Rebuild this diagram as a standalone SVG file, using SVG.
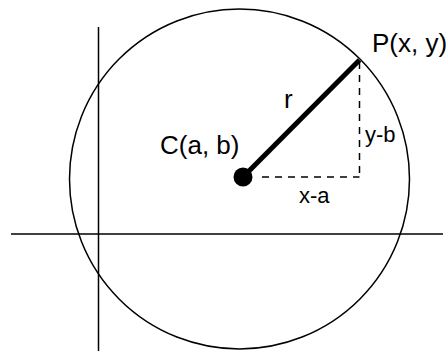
<svg xmlns="http://www.w3.org/2000/svg" width="448" height="351" viewBox="0 0 448 351">
<style>
.thin{fill:none;stroke:#000;stroke-width:1.5}
.dash{fill:none;stroke:#000;stroke-width:1.5;stroke-dasharray:7,6}
.lbl{font-family:"Liberation Sans",Arial,sans-serif;fill:#000}
</style>
<rect width="448" height="351" fill="#fff"/>
<g id="axes">
<line class="thin" x1="98.5" y1="27" x2="98.5" y2="351"/>
<line class="thin" x1="11" y1="234" x2="443" y2="234"/>
</g>
<g id="circle">
<circle class="thin" cx="239.5" cy="179" r="170"/>
</g>
<g id="connectors">
<line x1="243" y1="177" x2="359.5" y2="60" stroke="#000" stroke-width="5"/>
<line class="dash" x1="262" y1="177" x2="359.5" y2="177"/>
<line class="dash" x1="359.5" y1="62" x2="359.5" y2="177"/>
</g>
<g id="center">
<circle cx="243" cy="177" r="9.5" fill="#000"/>
<text class="lbl" x="160" y="154" font-size="26">C(a, b)</text>
</g>
<g id="point">
<text class="lbl" x="372" y="52" font-size="26">P(x, y)</text>
</g>
<g id="labels">
<text class="lbl" x="284" y="108" font-size="26">r</text>
<text class="lbl" x="365" y="142" font-size="22">y-b</text>
<text class="lbl" x="299" y="203" font-size="22">x-a</text>
</g>
</svg>
